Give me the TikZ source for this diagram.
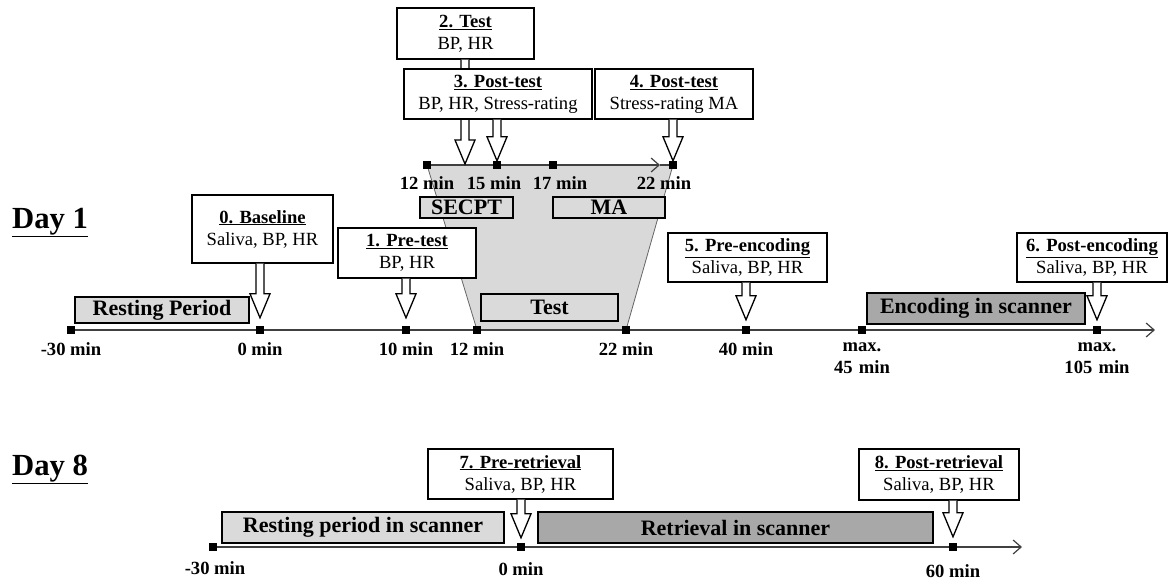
\documentclass[tikz,border=0pt]{standalone}
\usepackage{fontspec}
\setmainfont{Liberation Serif}
\usetikzlibrary{arrows.meta,calc}
\definecolor{lightbar}{HTML}{DADADA}
\definecolor{darkbar}{HTML}{A8A8A8}
\definecolor{trapfill}{HTML}{D9D9D9}

\newcommand{\boxfont}{\fontsize{18.6}{22}\selectfont}
\newcommand{\barfont}{\fontsize{22}{26}\selectfont\bfseries}
\newcommand{\dayfont}{\fontsize{30.7}{34}\selectfont\bfseries}

% block arrow from box bottom (#1) to tip (#2)
\newcommand{\blockarrow}[2]{%
  \draw[barrow] let \p1=(#1), \p2=(#2) in
    (\x2-4pt,\y1) -- (\x2-4pt,\y2+24pt) -- (\x2-10pt,\y2+24pt) -- (\x2,\y2)
    -- (\x2+10pt,\y2+24pt) -- (\x2+4pt,\y2+24pt) -- (\x2+4pt,\y1);}

\tikzset{
  mbox/.style={draw, line width=1.3pt, fill=white, align=center, inner sep=0pt, font=\boxfont},
  lbar/.style={draw, line width=1.8pt, fill=lightbar, inner sep=0pt, font=\barfont},
  dbar/.style={draw, line width=1.8pt, fill=darkbar, inner sep=0pt, font=\barfont},
  tick/.style={fill=black, inner sep=0pt, minimum size=8pt},
  tlab/.style={font=\boxfont\bfseries, inner sep=0pt, align=center},
  tline/.style={line width=1.2pt, draw=black!75},
  barrow/.style={line width=1.3pt, fill=white, line join=miter},
  daylab/.style={font=\dayfont, inner sep=0pt, anchor=base west},
}

\begin{document}
\begin{tikzpicture}[x=1pt, y=-1pt]
  \useasboundingbox (0,0) rectangle (1170,583);

  % Test zoom (trapezoid)
  \fill[trapfill] (427,165) -- (673,165) -- (626,330) -- (477,330) -- cycle;
  \draw[draw=black!60, line width=0.8pt] (427,165) -- (477,330);
  \draw[draw=black!60, line width=0.8pt] (673,165) -- (626,330);

  % Day labels
  \node[daylab] (day1) at (12,228) {\underline{Day 1}};
  \node[daylab] (day8) at (12,475) {\underline{Day 8}};

  % Day 1 time axis
  \coordinate (end1) at (1155,330);
  \node[tick] (tm30) at (71,330) {};
  \node[tick] (t0) at (260,330) {};
  \node[tick] (t10) at (406,330) {};
  \node[tick] (t12) at (477,330) {};
  \node[tick] (t22) at (626,330) {};
  \node[tick] (t40) at (746,330) {};
  \node[tick] (t45) at (862,330) {};
  \node[tick] (t105) at (1097,330) {};
  \draw[tline, -{Straight Barb[length=8pt, width=14pt, line width=1.2pt]}] (tm30) -- (end1);
  \foreach \n in {tm30,t0,t10,t12,t22,t40,t45,t105} {
    \node[tick] at (\n) {};
  }
  \node[tlab] (lm30) at (71,349) {-30 min};
  \node[tlab] (l0) at (260,349) {0 min};
  \node[tlab] (l10) at (406,349) {10 min};
  \node[tlab] (l12) at (477,349) {12 min};
  \node[tlab] (l22) at (626,349) {22 min};
  \node[tlab] (l40) at (746,349) {40 min};
  \node[tlab, text width=80pt] (l45) at (862,358) {max.\\45 min};
  \node[tlab, text width=80pt] (l105) at (1097,358) {max.\\105 min};

  % Test time axis
  \coordinate (tipU) at (660,165);
  \node[tick] (u12) at (427,165) {};
  \node[tick] (u15) at (497,165) {};
  \node[tick] (u17) at (553,165) {};
  \node[tick] (u22) at (673,165) {};
  \draw[tline, -{Straight Barb[length=8pt, width=14pt, line width=1.2pt]}] (u12) -- (tipU);
  \draw[tline] (tipU) -- (u22);
  \foreach \n in {u12,u15,u17,u22} {
    \node[tick] at (\n) {};
  }
  \node[tlab] (lu12) at (427,183) {12 min};
  \node[tlab] (lu15) at (494,183) {15 min};
  \node[tlab] (lu17) at (560,183) {17 min};
  \node[tlab] (lu22) at (664,183) {22 min};

  % Phases
  \node[lbar, minimum width=174pt, minimum height=26pt] (rest1) at (162,310) {Resting Period};
  \node[lbar, minimum width=137pt, minimum height=27pt] (test) at (549.5,307.5) {Test};
  \node[lbar, minimum width=93pt, minimum height=21pt] (secpt) at (466.5,207.5) {SECPT};
  \node[lbar, minimum width=112pt, minimum height=21pt] (ma) at (609,207.5) {MA};
  \node[dbar, minimum width=218pt, minimum height=31pt] (enc) at (976,308.5) {Encoding in scanner};

  % Measurements day 1
  \node[mbox, minimum width=141pt, minimum height=68pt] (base) at (262.5,229)
    {\underline{\textbf{0. Baseline}}\\Saliva, BP, HR};
  \blockarrow{t0 |- base.south}{$(t0.north)+(0,-8)$}
  \node[mbox, minimum width=138pt, minimum height=50pt] (pre) at (407,253)
    {\underline{\textbf{1. Pre-test}}\\BP, HR};
  \blockarrow{t10 |- pre.south}{$(t10.north)+(0,-8)$}
  \node[mbox, minimum width=137pt, minimum height=51pt] (mid) at (465.5,33.5)
    {\underline{\textbf{2. Test}}\\BP, HR};
  \coordinate (tip2) at (465,164);
  \blockarrow{tip2 |- mid.south}{tip2}
  \node[mbox, minimum width=188pt, minimum height=50pt] (post3) at (498,94)
    {\underline{\textbf{3. Post-test}}\\BP, HR, Stress-rating};
  \blockarrow{u15 |- post3.south}{u15.north}
  \node[mbox, minimum width=158pt, minimum height=50pt] (post4) at (674,94)
    {\underline{\textbf{4. Post-test}}\\Stress-rating MA};
  \blockarrow{u22 |- post4.south}{u22.north}
  \node[mbox, minimum width=159pt, minimum height=49pt] (preenc) at (747.5,257.5)
    {\underline{\textbf{5. Pre-encoding}}\\Saliva, BP, HR};
  \blockarrow{t40 |- preenc.south}{$(t40.north)+(0,-6)$}
  \node[mbox, minimum width=150pt, minimum height=49pt] (postenc) at (1092,257.5)
    {\underline{\textbf{6. Post-encoding}}\\Saliva, BP, HR};
  \blockarrow{t105 |- postenc.south}{$(t105.north)+(0,-6)$}

  % Day 8 time axis
  \coordinate (end8) at (1022,547);
  \node[tick] (dm30) at (213,547) {};
  \node[tick] (d0) at (521,547) {};
  \node[tick] (d60) at (953,547) {};
  \draw[tline, -{Straight Barb[length=8pt, width=14pt, line width=1.2pt]}] (dm30) -- (end8);
  \foreach \n in {dm30,d0,d60} {
    \node[tick] at (\n) {};
  }
  \node[tlab] (ldm30) at (215,568) {-30 min};
  \node[tlab] (ld0) at (521,569) {0 min};
  \node[tlab] (ld60) at (953,571) {60 min};

  % Phases day 8
  \node[lbar, minimum width=282pt, minimum height=31pt] (rest8) at (363,527.5) {Resting period in scanner};
  \node[dbar, minimum width=395pt, minimum height=31pt] (ret) at (735.5,527.5) {Retrieval in scanner};

  % Measurements day 8
  \node[mbox, minimum width=185pt, minimum height=50pt] (preret) at (520.5,474)
    {\underline{\textbf{7. Pre-retrieval}}\\Saliva, BP, HR};
  \blockarrow{d0 |- preret.south}{$(d0.north)+(0,-5)$}
  \node[mbox, minimum width=160pt, minimum height=51pt] (postret) at (939,474.5)
    {\underline{\textbf{8. Post-retrieval}}\\Saliva, BP, HR};
  \blockarrow{d60 |- postret.south}{$(d60.north)+(0,-6)$}
\end{tikzpicture}
\end{document}
